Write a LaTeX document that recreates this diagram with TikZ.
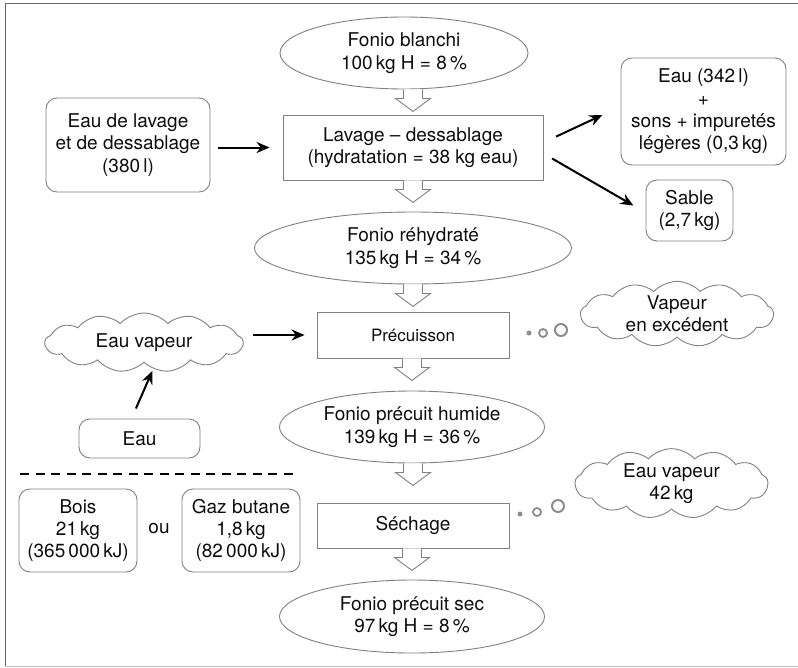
\documentclass[tikz,border=0pt]{standalone}
\usepackage{fontspec}
\setmainfont{TeX Gyre Heros}
\usetikzlibrary{shapes.geometric,shapes.symbols,arrows.meta,calc}
\begin{document}
\begin{tikzpicture}[x=1pt,y=-1pt,
  every node/.style={font=\fontsize{19}{22.3}\selectfont, text=black!95, align=center},
  box/.style={draw=black!50, line width=0.9pt, inner sep=0pt},
  rbox/.style={box, rounded corners=11pt},
  ell/.style={box, ellipse},
  cloudy/.style={box, cloud, cloud puffs=13, cloud puff arc=95, cloud ignores aspect},
  flow/.style={line width=2pt, -{Stealth[length=13pt,width=11pt]}},
  dotS/.style={circle, fill=black!45, inner sep=0pt, minimum size=5pt},
  dotM/.style={circle, draw=black!45, line width=1.8pt, inner sep=0pt, minimum size=8pt},
  dotL/.style={circle, draw=black!45, line width=2pt, inner sep=0pt, minimum size=12pt},
  hollow/.pic={\draw[draw=black!50, line width=0.9pt, fill=white]
     (-9.5,0) -- (-9.5,9) -- (-17.5,9) -- (0,22) -- (17.5,9) -- (9.5,9) -- (9.5,0);}
]
\useasboundingbox (0,0) rectangle (798,667);
% frame
\draw[black!60, line width=1pt] (5,666) -- (5,3) -- (800,3);
\draw[black!25, line width=1pt] (5,666) -- (800,666);

% main column
\node[ell, minimum width=248, minimum height=72] (fb) at (404,53) {Fonio blanchi\\100\,kg H = 8\,\%};
\node[box, minimum width=260, minimum height=65] (lav) at (413,147.5) {Lavage – dessablage\\(hydratation = 38 kg eau)};
\node[ell, minimum width=317, minimum height=72] (fr) at (413,248) {Fonio réhydraté\\135\,kg H = 34\,\%};
\node[box, minimum width=192, minimum height=46, font=\fontsize{17}{20}\selectfont] (pre) at (413,335) {Précuisson};
\node[ell, minimum width=265, minimum height=72] (fph) at (412,427) {Fonio précuit humide\\139\,kg H = 36\,\%};
\node[box, minimum width=192, minimum height=45] (sec) at (413,525.5) {Séchage};
\node[ell, minimum width=265, minimum height=73] (fps) at (412,616.5) {Fonio précuit sec\\97\,kg H = 8\,\%};

% side nodes
\node[rbox, minimum width=164, minimum height=94] (eaul) at (128,145) {Eau de lavage\\et de dessablage\\(380\,l)};
\node[rbox, minimum width=165, minimum height=107] (eau342) at (703.5,111.5) {Eau (342\,l)\\+\\sons + impuretés\\légères (0,3\,kg)};
\node[rbox, minimum width=87, minimum height=61] (sable) at (689.5,210.5) {Sable\\(2,7\,kg)};
\node[cloudy, minimum width=193, minimum height=58] (vap) at (677,314) {Vapeur\\en excédent};
\node[cloudy, minimum width=198, minimum height=59] (cv) at (144,342.5) {Eau vapeur};
\node[rbox, minimum width=121, minimum height=39] (eau) at (139.5,438.5) {Eau};
\node[rbox, minimum width=118, minimum height=83] (bois) at (78,530.5) {Bois\\21\,kg\\(365\,000\,kJ)};
\node (ou) at (159,529) {ou};
\node[rbox, minimum width=118, minimum height=83] (gaz) at (241,530.5) {Gaz butane\\1,8\,kg\\(82\,000\,kJ)};
\node[cloudy, minimum width=193, minimum height=59] (cv2) at (671.5,483.5) {Eau vapeur\\42\,kg};

% thought dots
\node[dotS] (a1) at (529,333) {};
\node[dotM] (a2) at (543,333) {};
\node[dotL] (a3) at (561,330) {};
\node[dotS] (b1) at (520,514) {};
\node[dotM] (b2) at (537,512) {};
\node[dotL] (b3) at (558,506) {};

% hollow arrows
\pic at (fb.south -| lav.north) {hollow};
\pic at (lav.south -| fr.north) {hollow};
\pic at (fr.south -| pre.north) {hollow};
\pic at (pre.south -| fph.north) {hollow};
\pic at (fph.south -| sec.north) {hollow};
\pic at (sec.south -| fps.north) {hollow};

% black arrows
\draw[flow, shorten <=8pt, shorten >=13pt] (lav.west -| eaul.east) -- (lav.west);
\draw[flow, shorten <=14pt, shorten >=20pt] ([yshift=5pt]lav.east) -- ([yshift=5pt]eau342.west);
\draw[flow, shorten <=10pt, shorten >=14pt] ([yshift=-6pt]lav.east) -- ([yshift=-2pt]sable.west);
\draw[flow, shorten <=9pt, shorten >=12pt] (pre.west -| cv.east) -- (pre.west);
\draw[flow, shorten <=11pt, shorten >=9pt] ([xshift=-8pt]eau.north) -- ([xshift=12pt]cv.south);

% dashed separator
\draw[line width=1.8pt, dash pattern=on 9pt off 6.5pt] (20,474) -- (298,474);
\end{tikzpicture}
\end{document}
